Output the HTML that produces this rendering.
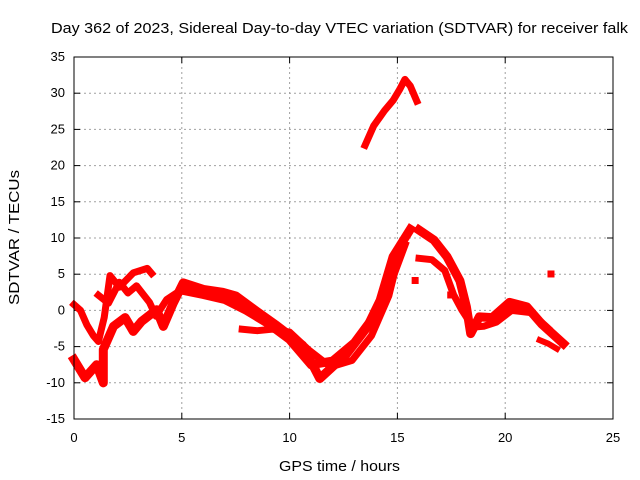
<!DOCTYPE html>
<html><head><meta charset="utf-8"><style>
body{margin:0;background:#fff}
svg{display:block;font-family:"Liberation Sans",sans-serif;font-size:13px}
</style></head><body>
<svg id="chart" width="640" height="480" viewBox="0 0 640 480" xmlns="http://www.w3.org/2000/svg">
<text x="51" y="33" font-size="15" textLength="577" lengthAdjust="spacingAndGlyphs">Day 362 of 2023, Sidereal Day-to-day VTEC variation (SDTVAR) for receiver falk</text>
<text x="279" y="471" font-size="14.5" textLength="121" lengthAdjust="spacingAndGlyphs">GPS time / hours</text>
<text transform="translate(19,305) rotate(-90)" font-size="14.5" textLength="135" lengthAdjust="spacingAndGlyphs">SDTVAR / TECUs</text>
<g id="grid"></g><g id="ticks"></g><g id="series"></g>
<rect x="74" y="57" width="539" height="362" fill="none" stroke="#000" stroke-width="1"/>
</svg>
<script>
const xTicks=[0,5,10,15,20,25];
const yTicks=[-15,-10,-5,0,5,10,15,20,25,30,35];
const track1Hours=[0,0.3,0.6,0.9,1.13,1.4,1.67,2.1,2.75,3.4,3.6];
const track1Values=[0.8,0,-2,-3.5,-4.3,-1,4.8,3.2,5.2,5.8,5.1];
const track2Hours=[0,0.51,1.05,1.36,1.36,1.83,2.37,2.75,3.14,3.83,4.14,4.6,5.07,6,6.9,7.5,8.5,9.4,10.6,11.4,12.65,13.6,14.2,14.8,15.6];
const track2Values=[-6.8,-9.3,-7.5,-10,-5.4,-2.2,-1,-2.9,-1.5,0.1,-2.2,1,3.8,2.9,2.5,2,-0.2,-2.1,-4.8,-9.4,-6,-2.3,1.4,7.4,11.2];
const track3Hours=[1.13,1.6,2.1,2.5,2.9,3.5,3.8,4.3,4.8];
const track3Values=[2.1,1,3.9,2.4,3.4,1.1,-0.8,1.5,2.5];
const track4Hours=[7.8,8.5,9.2,10,10.9,11.9,12.9,13.8,14.6,15.1];
const track4Values=[-2.6,-2.8,-2.6,-3,-5.5,-7.8,-6.9,-3.5,2,8];
const track7Hours=[5.0,6,7,8,9,10,11,12,13,14,14.8,15.3];
const track7Values=[2.8,2.2,1.5,0,-1.8,-4,-7.5,-7,-4.5,-0.5,5,9];
const track5Hours=[16.0,16.7,17.3,17.9,18.2,18.4,18.8,19.4,20.2,21,21.7,22.7];
const track5Values=[11.1,9.7,7.4,4.1,0.5,-3.2,-0.9,-1,1.1,0.5,-1.9,-4.6];
const track8Hours=[16.0,16.6,17.2,17.6,18.0,18.5,19.0,19.6,20.3,21.2,22.0];
const track8Values=[7.2,7.0,5.5,2.2,0,-2.3,-2.2,-1.6,0,-0.3,-2.5];
const track6Hours=[21.6,22.0,22.4];
const track6Values=[-4.1,-4.6,-5.3];
const arcHours=[13.5,13.9,14.4,14.8,15.1,15.35,15.6,15.9];
const arcValues=[22.8,25.5,27.6,29,30.5,31.9,31,28.9];
const spotHours=[22.1,15.8,17.45];
const spotValues=[5.1,4.2,2.2];

const NS="http://www.w3.org/2000/svg";
const X0=74,X1=613,Y0=419,Y1=57;
const xs=h=>X0+(h-0)/25*(X1-X0);
const ys=v=>Y0-(v+15)/50*(Y0-Y1);
const grid=document.getElementById('grid'),ticks=document.getElementById('ticks'),series=document.getElementById('series');
function mk(tag,a,p){const e=document.createElementNS(NS,tag);for(const k in a)e.setAttribute(k,a[k]);p.appendChild(e);return e;}
xTicks.forEach(t=>{const x=xs(t);
 if(t>0&&t<25){const g=mk('line',{x1:x,x2:x,y1:Y1,y2:Y0,stroke:'#a0a0a0','stroke-dasharray':'2,3'},grid);
 
 }
 mk('line',{x1:x,x2:x,y1:Y0,y2:Y0-6,stroke:'#000'},ticks);mk('line',{x1:x,x2:x,y1:Y1,y2:Y1+6,stroke:'#000'},ticks);
 const l=mk('text',{x:x,y:Y0+23,'text-anchor':'middle'},ticks);l.textContent=t;
 
 });
yTicks.forEach(t=>{const y=ys(t);
 if(t>-15&&t<35){const g=mk('line',{x1:X0,x2:X1,y1:y,y2:y,stroke:'#a0a0a0','stroke-dasharray':'2,3'},grid);
 
 }
 mk('line',{x1:X0,x2:X0+6,y1:y,y2:y,stroke:'#000'},ticks);mk('line',{x1:X1,x2:X1-6,y1:y,y2:y,stroke:'#000'},ticks);
 const l=mk('text',{x:X0-9,y:y+4,'text-anchor':'end'},ticks);l.textContent=t;
 
 });
function track(H,V,w,name){const pts=H.map((h,i)=>xs(h).toFixed(1)+','+ys(V[i]).toFixed(1)).join(' ');
 const p=mk('polyline',{points:pts,fill:'none',stroke:'#ff0000','stroke-width':w,'stroke-linejoin':'round','stroke-linecap':'square'},series);
 
 }
track(track1Hours,track1Values,7,'series-track-1');
track(track2Hours,track2Values,9,'series-track-2');
track(track3Hours,track3Values,7,'series-track-3');
track(track4Hours,track4Values,7,'series-track-4');
track(track7Hours,track7Values,9,'series-track-7');
track(track5Hours,track5Values,9,'series-track-5');
track(track8Hours,track8Values,7,'series-track-8');
track(track6Hours,track6Values,6,'series-track-6');
track(arcHours,arcValues,7,'series-arc');
spotHours.forEach((h,i)=>{const c=mk('rect',{x:xs(h)-3,y:ys(spotValues[i])-3,width:7,height:7,fill:'#ff0000'},series);
 
 });
</script>
</body></html>
